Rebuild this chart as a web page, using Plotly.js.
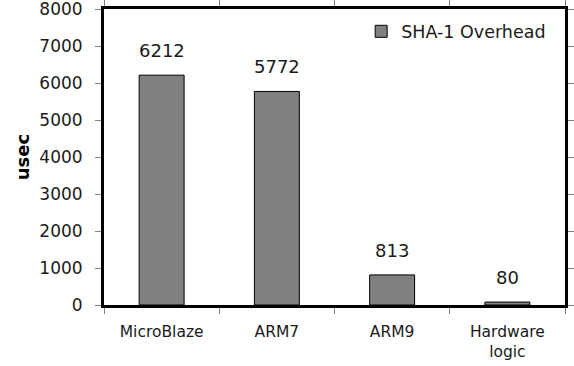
<!DOCTYPE html>
<html>
<head>
<meta charset="utf-8">
<script src="https://cdn.plot.ly/plotly-3.0.1.min.js"></script>
<style>html,body{margin:0;padding:0;background:#fff;}#chart{width:574px;height:366px;}</style>
</head>
<body>
<div id="chart"></div>
<script>
var categories = ["MicroBlaze", "ARM7", "ARM9", "Hardware<br>logic"];
var overhead = [6212, 5772, 813, 80];
var seriesName = "SHA-1 Overhead";
var yTicks = [0, 1000, 2000, 3000, 4000, 5000, 6000, 7000, 8000];

var font = "DejaVu Sans, Verdana, sans-serif";

var trace = {
  type: "bar",
  x: categories,
  y: overhead,
  name: seriesName,
  width: 0.39,
  marker: {color: "#808080", line: {color: "#000000", width: 1}},
  hoverinfo: "none"
};

var annotations = categories.map(function (c, i) {
  return {
    x: c, y: overhead[i], xref: "x", yref: "y",
    text: String(overhead[i]), showarrow: false,
    yanchor: "bottom", yshift: 12,
    font: {family: font, size: 18, color: "#1a1a1a"}
  };
});

var layout = {
  width: 574, height: 366,
  margin: {l: 104, r: 9, t: 9, b: 61, pad: 0},
  paper_bgcolor: "#ffffff", plot_bgcolor: "#ffffff",
  showlegend: true,
  legend: {
    x: 0.97, y: 0.985, xanchor: "right", yanchor: "top",
    font: {family: font, size: 17.5, color: "#1a1a1a"},
    bgcolor: "rgba(0,0,0,0)", itemwidth: 30
  },
  xaxis: {
    type: "category",
    range: [-0.5, 3.5],
    tickson: "boundaries",
    ticks: "outside", ticklen: 6, tickcolor: "#808080", tickwidth: 1,
    ticklabelstandoff: 10,
    showline: true, mirror: "all", linecolor: "#000000", linewidth: 3,
    showgrid: false, zeroline: false,
    tickfont: {family: font, size: 15.5, color: "#1a1a1a"}
  },
  yaxis: {
    range: [0, 8000],
    tickvals: yTicks,
    ticktext: yTicks.map(String),
    ticks: "outside", ticklen: 6, tickcolor: "#808080", tickwidth: 1,
    ticklabelstandoff: 9,
    ticklabeloverflow: "allow",
    showline: true, mirror: "all", linecolor: "#000000", linewidth: 3,
    showgrid: false, zeroline: false,
    tickfont: {family: font, size: 17, color: "#1a1a1a"},
    title: {text: "<b>usec</b>", font: {family: font, size: 18, color: "#000000"}, standoff: 6}
  },
  annotations: annotations
};

Plotly.newPlot("chart", [trace], layout, {displayModeBar: false});
</script>
</body>
</html>
